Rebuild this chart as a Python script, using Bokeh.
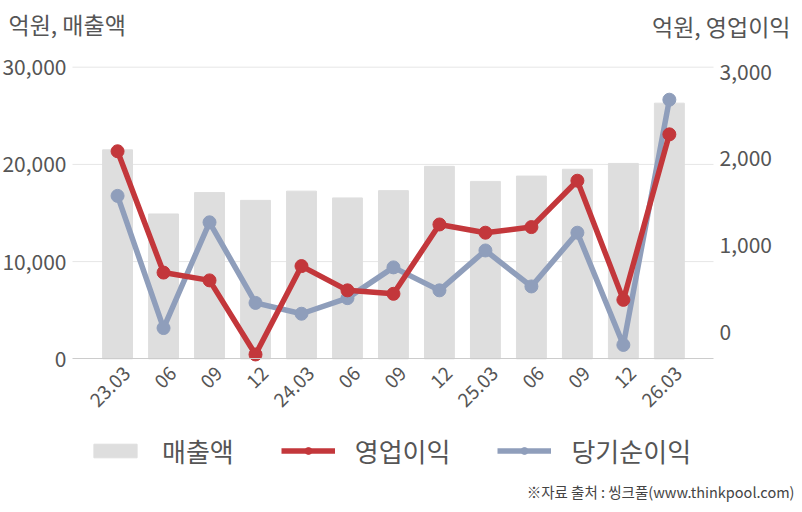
from bokeh.plotting import figure
from bokeh.models import (Range1d, LinearAxis, FixedTicker, NumeralTickFormatter,
                          Legend, LegendItem, Label, ColumnDataSource)
from bokeh.embed import file_html
from bokeh.resources import INLINE
import math

# ---- data ----
periods = ["23.03", "06", "09", "12", "24.03", "06", "09", "12",
           "25.03", "06", "09", "12", "26.03"]
sales = [21500, 14900, 17100, 16300, 17250, 16550, 17300, 19800,
         18250, 18800, 19500, 20100, 26300]          # 매출액 (left axis)
op_profit = [2080, 680, 590, -265, 755, 475, 435, 1235,
             1140, 1205, 1740, 365, 2275]            # 영업이익 (right axis)
net_profit = [1565, 40, 1260, 330, 205, 385, 740, 475,
              935, 520, 1140, -155, 2675]            # 당기순이익 (right axis)
left_ticks = [0, 10000, 20000, 30000]
right_ticks = [0, 1000, 2000, 3000]
left_title = "억원, 매출액"
right_title = "억원, 영업이익"
series_names = ["매출액", "영업이익", "당기순이익"]
source_note = "※자료 출처 : 씽크풀(www.thinkpool.com)"

# ---- layout constants (pixels) ----
W, H = 800, 510
PL, PR, PT, PB = 72.0, 713.0, 66.7, 358.3      # plotting area edges
X0, X1 = -0.98, 12.96                          # category span of plotting area
L0, L1 = 0, 30000                              # left axis span
R0, R1 = -315, 3050                            # right axis span
SHIFT = 0.2                                    # tick-label offset (category units)

FONT = "Noto Sans CJK KR"
TXT = "#555555"
RED = "#c3373b"
BLUE = "#8f9ebb"
BAR = "#dedede"


def span_x(a, b):
    k = (b - a) / (PR - PL)
    return a - PL * k, a + (W - PL) * k


def span_y(lo, hi):
    k = (hi - lo) / (PB - PT)          # value per pixel (upwards)
    return lo - (H - PB) * k, lo + PB * k


xs, xe = span_x(X0, X1)
ls, le = span_y(L0, L1)
rs_, re_ = span_y(R0, R1)

idx = list(range(len(periods)))
src = ColumnDataSource(dict(x=idx, sales=sales, op=op_profit, net=net_profit))

p = figure(width=W, height=H, output_backend="svg", toolbar_location=None,
           x_range=Range1d(xs, xe), y_range=Range1d(ls, le),
           x_axis_location=None, y_axis_location=None,
           min_border=0, min_border_left=0, min_border_right=0,
           min_border_top=0, min_border_bottom=0)
p.outline_line_color = None
p.background_fill_color = "white"
p.border_fill_color = "white"
p.grid.visible = False
p.extra_y_ranges = {"right": Range1d(rs_, re_)}
p.extra_x_ranges = {"lab": Range1d(xs - SHIFT, xe - SHIFT)}

# grid lines for the left-axis ticks (not the zero line, which is the axis)
gt = [t for t in left_ticks if t != 0]
p.segment(x0=[X0] * len(gt), x1=[X1] * len(gt), y0=gt, y1=gt,
          line_color="#e6e6e6", line_width=1)

bars = p.vbar(x="x", top="sales", width=0.65, color=BAR, source=src)
bl = p.line(x="x", y="net", line_width=5.5, color=BLUE, y_range_name="right", source=src)
bs = p.scatter(x="x", y="net", size=13, color=BLUE, y_range_name="right", source=src)
rl = p.line(x="x", y="op", line_width=5.5, color=RED, y_range_name="right", source=src)
rsc = p.scatter(x="x", y="op", size=13, color=RED, y_range_name="right", source=src)


def style(ax, size):
    ax.major_label_text_font = FONT
    ax.major_label_text_font_size = size
    ax.major_label_text_color = TXT
    ax.major_tick_line_color = None
    ax.minor_tick_line_color = None
    ax.major_tick_out = 0
    ax.major_tick_in = 0
    ax.minor_tick_out = 0
    ax.minor_tick_in = 0


# x axis (drawn at value 0 of the left axis)
xa = LinearAxis(x_range_name="lab", ticker=FixedTicker(ticks=idx),
                fixed_location=0, bounds=(X0 - SHIFT, X1 - SHIFT))
xa.major_label_overrides = {i: s for i, s in zip(idx, periods)}
xa.major_label_orientation = math.pi / 4
style(xa, "19px")
xa.axis_line_color = "#cccccc"
xa.axis_line_width = 1
xa.major_label_standoff = 11
p.add_layout(xa, "below")

# left axis
ya = LinearAxis(ticker=FixedTicker(ticks=left_ticks), fixed_location=X0,
                formatter=NumeralTickFormatter(format="0,0"))
style(ya, "21px")
ya.axis_line_color = None
ya.major_label_standoff = 6
p.add_layout(ya, "left")

# right axis
ra = LinearAxis(y_range_name="right", ticker=FixedTicker(ticks=right_ticks),
                fixed_location=X1, formatter=NumeralTickFormatter(format="0,0"))
style(ra, "21px")
ra.axis_line_color = None
ra.major_label_standoff = 6
p.add_layout(ra, "right")

# legend
legend = Legend(items=[
    LegendItem(label=series_names[0], renderers=[bars]),
    LegendItem(label=series_names[1], renderers=[rl, rsc]),
    LegendItem(label=series_names[2], renderers=[bl, bs]),
], orientation="horizontal", location=(88, 41))
legend.label_text_font = FONT
legend.label_text_font_size = "26px"
legend.label_text_color = TXT
legend.glyph_width = 54
legend.glyph_height = 17
legend.label_standoff = 20
legend.spacing = 47
legend.padding = 0
legend.margin = 0
legend.border_line_color = None
legend.background_fill_alpha = 0
p.add_layout(legend, "center")

# axis titles & source
p.add_layout(Label(x=8, y=23, x_units="canvas", y_units="canvas", text=left_title,
                   text_font=FONT, text_font_size="23px", text_color=TXT,
                   text_baseline="middle", text_align="left"))
p.add_layout(Label(x=790, y=25, x_units="canvas", y_units="canvas", text=right_title,
                   text_font=FONT, text_font_size="23px", text_color=TXT,
                   text_baseline="middle", text_align="right"))
p.add_layout(Label(x=794, y=491, x_units="canvas", y_units="canvas", text=source_note,
                   text_font=FONT, text_font_size="14.5px", text_color="#444444",
                   text_baseline="middle", text_align="right"))

open("out.html", "w").write(file_html(p, INLINE))
